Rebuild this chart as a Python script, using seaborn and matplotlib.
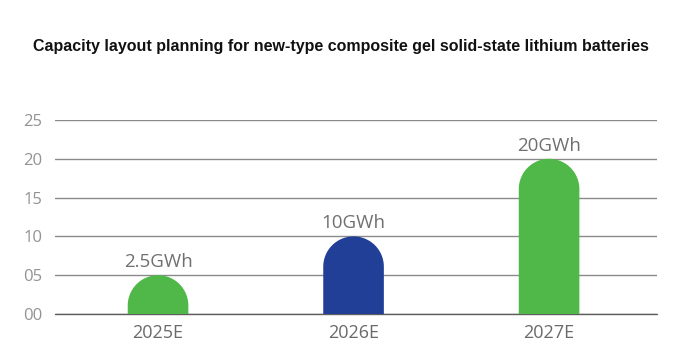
import numpy as np
import pandas as pd
import matplotlib
matplotlib.use('Agg')
import matplotlib.pyplot as plt
from matplotlib.patches import Polygon
import seaborn as sns

# data
years = ['2025E', '2026E', '2027E']
capacity = [5, 10, 20]
value_labels = ['2.5GWh', '10GWh', '20GWh']
bar_colors = ['#4fb848', '#213f96', '#4fb848']
y_ticks = [0, 5, 10, 15, 20, 25]

title = 'Capacity layout planning for new-type composite gel solid-state lithium batteries'

sns.set_theme(style='white')
plt.rcParams['font.family'] = ['Open Sans', 'DejaVu Sans']

df = pd.DataFrame({'year': years, 'capacity': capacity})

fig = plt.figure(figsize=(6.81, 3.61), dpi=100)
ax = fig.add_axes([55 / 681, 47 / 361, 602 / 681, 194 / 361])

sns.barplot(data=df, x='year', y='capacity', hue='year', palette=bar_colors,
            width=0.31, saturation=1, legend=False, ax=ax)

ax.set_ylim(0, 25)
ax.set_xlim(-0.527, 2.552)
ax.set_yticks(y_ticks)
ax.set_yticklabels([f'{v:02d}' for v in y_ticks])
ax.set_xlabel('')
ax.set_ylabel('')

ax.yaxis.grid(True, color='#8a8a8a', linewidth=1.0)
ax.set_axisbelow(True)
for s in ax.spines.values():
    s.set_visible(False)
ax.tick_params(axis='both', length=0)
ax.tick_params(axis='y', colors='#939393', labelsize=12, pad=9)
ax.tick_params(axis='x', colors='#6a6a6a', labelsize=13, pad=7)
ax.axhline(0, color='#5e5e5e', linewidth=1.0, zorder=1, clip_on=False)

# swap the square bars for ones with a round top
fig.canvas.draw()
px_x = ax.transData.transform((1, 0))[0] - ax.transData.transform((0, 0))[0]
px_y = ax.transData.transform((0, 1))[1] - ax.transData.transform((0, 0))[1]
theta = np.linspace(0, np.pi, 60)
for patch, lab in zip(ax.patches, value_labels):
    x0 = patch.get_x()
    w = patch.get_width()
    h = patch.get_height()
    xc = x0 + w / 2
    rx = w / 2
    ry = rx * px_x / px_y
    arc = np.column_stack([xc + rx * np.cos(theta), h - ry + ry * np.sin(theta)])
    pts = np.vstack([[x0 + w, 0], arc, [x0, 0]])
    ax.add_patch(Polygon(pts, closed=True, facecolor=patch.get_facecolor(),
                         edgecolor='none', zorder=3))
    patch.set_visible(False)
    ax.annotate(lab, xy=(xc, h), xytext=(0, 3), textcoords='offset points',
                ha='center', va='bottom', fontsize=13.5, color='#707070')

fig.text(0.5, 1 - 47 / 361, title, ha='center', va='center', fontsize=11.5,
         fontweight='bold', family=['Liberation Sans', 'DejaVu Sans'], color='#111111')

fig.savefig('out.png', dpi=100)
